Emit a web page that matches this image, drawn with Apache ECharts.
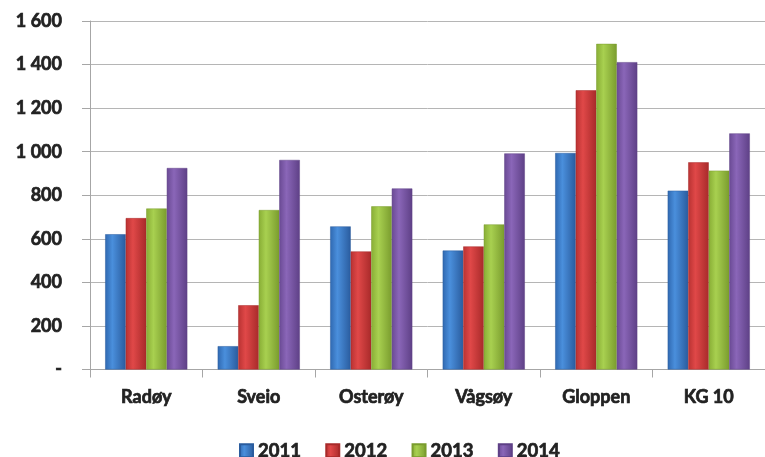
<!DOCTYPE html>
<html><head><meta charset="utf-8">
<script src="https://cdn.jsdelivr.net/npm/echarts@6/dist/echarts.min.js"></script>
<style>html,body{margin:0;padding:0;background:#fff}#c{width:765px;height:457px}</style>
</head><body><div id="c"></div>
<script>
const categories = ['Radøy','Sveio','Osterøy','Vågsøy','Gloppen','KG 10'];
const years = ['2011','2012','2013','2014'];
const v2011 = [621,107,657,546,994,821];
const v2012 = [695,295,542,565,1282,951];
const v2013 = [739,732,749,666,1495,913];
const v2014 = [925,962,831,992,1411,1084];
const seriesValues = [v2011,v2012,v2013,v2014];
const colors = [
  ['#2f68b0','#4a8fdc','#2a5c9e'],
  ['#b83232','#e04848','#a82a2a'],
  ['#88ad35','#a8d050','#7a9c2e'],
  ['#6a4a94','#8a66b8','#5e4086']
];
function grad(c){return new echarts.graphic.LinearGradient(0,0,1,0,[{offset:0,color:c[0]},{offset:0.35,color:c[1]},{offset:1,color:c[2]}]);}
const chart = echarts.init(document.getElementById('c'));
const font = 'Lato, "Open Sans", sans-serif';
const txt = {fontFamily:font,fontWeight:'bold',color:'#222',textBorderColor:'#222',textBorderWidth:0.7};
chart.setOption({
  animation:false,
  grid:{left:90,right:0,top:21,bottom:87.5,containLabel:false},
  legend:{top:436,left:234,itemWidth:13,itemHeight:13,itemGap:24,icon:'rect',
    textStyle:Object.assign({fontSize:18.5},txt),
    data:years},
  xAxis:{type:'category',data:categories,
    axisLine:{lineStyle:{color:'#a6a6a6'}},
    axisTick:{show:true,length:8,lineStyle:{color:'#a6a6a6'}},
    axisLabel:Object.assign({fontSize:18,margin:19},txt)},
  yAxis:{type:'value',min:0,max:1600,interval:200,
    axisLine:{show:true,lineStyle:{color:'#a6a6a6'}},
    axisTick:{show:true,length:8,lineStyle:{color:'#a6a6a6'}},
    splitLine:{lineStyle:{color:'#b5b5b5'}},
    axisLabel:Object.assign({fontSize:18,margin:28,
      formatter:v=>v===0?'-':String(v).replace(/\B(?=(\d{3})+(?!\d))/g,' ')},txt)},
  series:years.map((y,i)=>({name:y,type:'bar',data:seriesValues[i],
    barGap:'0%',barCategoryGap:'27%',
    itemStyle:{color:grad(colors[i]),borderColor:colors[i][2],borderWidth:0.5}})),
  color:colors.map(c=>c[1])
});
</script></body></html>
